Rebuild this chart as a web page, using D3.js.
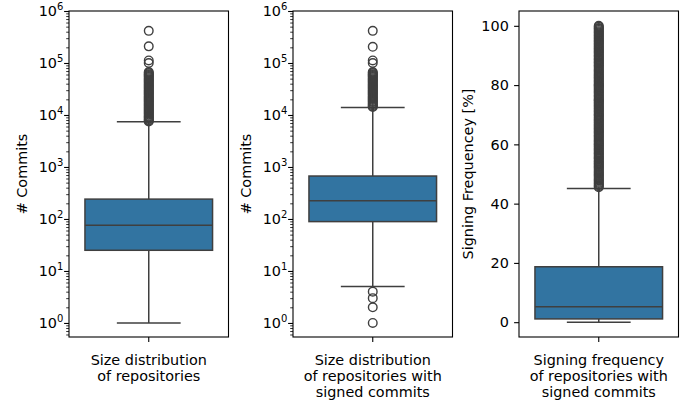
<!DOCTYPE html>
<html>
<head>
<meta charset="utf-8">
<script src="https://cdn.jsdelivr.net/npm/d3@7"></script>
<style>
  html, body { margin: 0; padding: 0; background: #fff; }
  svg { display: block; }
  text { font-family: "DejaVu Sans", sans-serif; fill: #000; }
</style>
</head>
<body>
<script>
// ---------------- data ----------------
const categories = [
  ["Size distribution", "of repositories"],
  ["Size distribution", "of repositories with", "signed commits"],
  ["Signing frequency", "of repositories with", "signed commits"]
];
const yLabels = ["# Commits", "# Commits", "Signing Frequencey [%]"];
const scaleTypes = ["log", "log", "linear"];

const whiskerLow  = [1, 5, 0];
const q1          = [25, 89, 1.1];
const median      = [76, 224, 5.2];
const q3          = [241, 670, 18.7];
const whiskerHigh = [7400, 14000, 45.1];

const fliersRepos = [415000, 209000, 112000, 100000,
  67000, 64000, 61000, 58500, 56000, 53500, 51000, 48700, 46500, 44400, 42400, 40500,
  38700, 37000, 35300, 33700, 32200, 30700, 29300, 28000, 26700, 25500, 24400, 23300,
  22200, 21200, 20300, 19400, 18500, 17700, 16900, 16100, 15400, 14700, 14000, 13400,
  12800, 12200, 11700, 11200, 10700, 10200, 9700, 9300, 8900, 8500, 8100, 7800, 7500];

const fliersSigned = [415000, 205000, 112000, 100000,
  67000, 64000, 61000, 58500, 56000, 53500, 51000, 48700, 46500, 44400, 42400, 40500,
  38700, 37000, 35300, 33700, 32200, 30700, 29300, 28000, 26700, 25500, 24400, 23300,
  22200, 21200, 20300, 19400, 18500, 17700, 16900, 16100, 15400, 14700, 14300,
  4, 3, 2, 1];

const fliersFreq = [45.5, 45.9, 46.2, 46.6, 47.0, 47.4, 47.8, 48.1, 48.5, 48.9, 49.3, 49.7,
  50.0, 50.4, 50.8, 51.2, 51.6, 52.0, 52.4, 52.7, 53.1, 53.5, 53.8, 54.2, 54.5, 55.0, 55.3,
  55.6, 56.0, 56.4, 56.8, 57.1, 57.5, 57.9, 58.3, 58.6, 59.0, 59.4, 59.8, 60.0, 60.4, 60.8,
  61.1, 61.5, 61.9, 62.3, 62.7, 63.0, 63.4, 63.8, 64.2, 64.5, 64.9, 65.3, 65.6, 66.0, 66.4,
  66.7, 67.1, 67.5, 67.9, 68.2, 68.6, 69.0, 69.4, 69.8, 70.0, 70.4, 70.8, 71.2, 71.5, 71.9,
  72.3, 72.7, 73.0, 73.4, 73.8, 74.1, 74.5, 74.9, 75.0, 75.4, 75.8, 76.2, 76.5, 76.9, 77.3,
  77.7, 78.0, 78.4, 78.8, 79.2, 79.5, 79.9, 80.0, 80.4, 80.8, 81.2, 81.5, 81.9, 82.3, 82.6,
  83.0, 83.3, 83.7, 84.1, 84.5, 84.8, 85.2, 85.6, 86.0, 86.4, 86.7, 87.1, 87.5, 87.8, 88.2,
  88.6, 88.9, 89.3, 89.7, 90.0, 90.4, 90.8, 91.2, 91.5, 91.9, 92.3, 92.6, 93.0, 93.4, 93.8,
  94.1, 94.5, 94.9, 95.2, 95.6, 96.0, 96.4, 96.7, 97.1, 97.5, 97.8, 98.2, 98.6, 99.0, 99.3,
  99.7, 100.0];

const fliers = [fliersRepos, fliersSigned, fliersFreq];

const logTickValues = [1, 10, 100, 1000, 10000, 100000, 1000000];
const logTickExponents = ["0", "1", "2", "3", "4", "5", "6"];
const linearTickValues = [0, 20, 40, 60, 80, 100];
const linearTickLabels = ["0", "20", "40", "60", "80", "100"];

// ---------------- layout ----------------
const W = 689, H = 404;
const axLeft = [69, 293, 519];
const axWidth = 159.5;
const axTop = 11, axBottom = 337;
const boxColor = "#3274a1";
const lineColor = "#3f3f3f";
const fontSize = 14.4;

const svg = d3.select("body").append("svg").attr("width", W).attr("height", H);

for (let i = 0; i < 3; i++) {
  const g = svg.append("g");
  const x = d3.scaleBand().domain([categories[i].join(" ")]).range([axLeft[i], axLeft[i] + axWidth]).paddingInner(0).paddingOuter(0);
  const y = scaleTypes[i] === "log"
    ? d3.scaleLog().domain([Math.pow(10, -0.27), 1e6]).range([axBottom, axTop])
    : d3.scaleLinear().domain([-5, 105]).range([axBottom, axTop]);

  const cx = x(categories[i].join(" ")) + x.bandwidth() / 2;
  const bw = x.bandwidth() * 0.8;
  const capW = bw * 0.5;

  // whiskers
  g.append("line").attr("x1", cx).attr("x2", cx).attr("y1", y(q3[i])).attr("y2", y(whiskerHigh[i]))
    .attr("stroke", lineColor).attr("stroke-width", 1.5);
  g.append("line").attr("x1", cx).attr("x2", cx).attr("y1", y(q1[i])).attr("y2", y(whiskerLow[i]))
    .attr("stroke", lineColor).attr("stroke-width", 1.5);
  g.append("line").attr("x1", cx - capW / 2).attr("x2", cx + capW / 2).attr("y1", y(whiskerHigh[i])).attr("y2", y(whiskerHigh[i]))
    .attr("stroke", lineColor).attr("stroke-width", 1.5);
  g.append("line").attr("x1", cx - capW / 2).attr("x2", cx + capW / 2).attr("y1", y(whiskerLow[i])).attr("y2", y(whiskerLow[i]))
    .attr("stroke", lineColor).attr("stroke-width", 1.5);

  // box
  g.append("rect").attr("x", cx - bw / 2).attr("width", bw)
    .attr("y", y(q3[i])).attr("height", y(q1[i]) - y(q3[i]))
    .attr("fill", boxColor).attr("stroke", lineColor).attr("stroke-width", 1.5);
  g.append("line").attr("x1", cx - bw / 2).attr("x2", cx + bw / 2).attr("y1", y(median[i])).attr("y2", y(median[i]))
    .attr("stroke", lineColor).attr("stroke-width", 1.5);

  // fliers
  g.selectAll("circle.flier").data(fliers[i]).enter().append("circle")
    .attr("class", "flier")
    .attr("cx", cx).attr("cy", d => y(d)).attr("r", 4.3)
    .attr("fill", "none").attr("stroke", lineColor).attr("stroke-width", 1.4);

  // y axis ticks
  if (scaleTypes[i] === "log") {
    const minor = [];
    for (let e = -1; e <= 5; e++) for (let m = 2; m <= 9; m++) {
      const v = m * Math.pow(10, e);
      if (v >= y.domain()[0] && v <= y.domain()[1]) minor.push(v);
    }
    g.append("g").attr("transform", `translate(${axLeft[i]},0)`)
      .call(d3.axisLeft(y).tickValues(minor).tickSize(2.8).tickSizeOuter(0).tickFormat(""))
      .call(a => a.select(".domain").remove())
      .call(a => a.selectAll("line").attr("stroke", "#000").attr("stroke-width", 0.8));
    g.append("g").attr("transform", `translate(${axLeft[i]},0)`)
      .call(d3.axisLeft(y).tickValues(logTickValues).tickSize(4.9).tickSizeOuter(0).tickFormat(""))
      .call(a => a.select(".domain").remove())
      .call(a => a.selectAll("line").attr("stroke", "#000").attr("stroke-width", 1.1));
    logTickValues.forEach((v, k) => {
      const t = g.append("text").attr("x", axLeft[i] - 5.6).attr("y", y(v) + 5.2)
        .attr("text-anchor", "end").attr("font-size", fontSize);
      t.append("tspan").text("10");
      t.append("tspan").attr("dy", -6.3).attr("font-size", 10).text(logTickExponents[k]);
    });
  } else {
    g.append("g").attr("transform", `translate(${axLeft[i]},0)`)
      .call(d3.axisLeft(y).tickValues(linearTickValues).tickSize(4.9).tickSizeOuter(0).tickFormat(""))
      .call(a => a.select(".domain").remove())
      .call(a => a.selectAll("line").attr("stroke", "#000").attr("stroke-width", 1.1));
    linearTickValues.forEach((v, k) => {
      g.append("text").attr("x", axLeft[i] - 10.2).attr("y", y(v) + 5.2)
        .attr("text-anchor", "end").attr("font-size", fontSize).text(linearTickLabels[k]);
    });
  }

  // x axis tick
  g.append("g").attr("transform", `translate(0,${axBottom})`)
    .call(d3.axisBottom(x).tickSize(4.9).tickSizeOuter(0).tickFormat(""))
    .call(a => a.select(".domain").remove())
    .call(a => a.selectAll("line").attr("stroke", "#000").attr("stroke-width", 1.1));

  // x label lines
  const xt = g.append("text").attr("text-anchor", "middle").attr("font-size", fontSize);
  categories[i].forEach((line, k) => {
    xt.append("tspan").attr("x", cx).attr("y", 364.5 + k * 16.3).text(line);
  });

  // spines
  g.append("rect").attr("x", axLeft[i]).attr("y", axTop).attr("width", axWidth).attr("height", axBottom - axTop)
    .attr("fill", "none").attr("stroke", "#000").attr("stroke-width", 1.1);

  // y label
  const ylx = axLeft[i] - (i === 2 ? 50.7 : 47.5);
  g.append("text").attr("transform", `translate(${ylx},${(axTop + axBottom) / 2}) rotate(-90)`)
    .attr("text-anchor", "middle").attr("dominant-baseline", "central")
    .attr("font-size", fontSize).text(yLabels[i]);
}
</script>
</body>
</html>
